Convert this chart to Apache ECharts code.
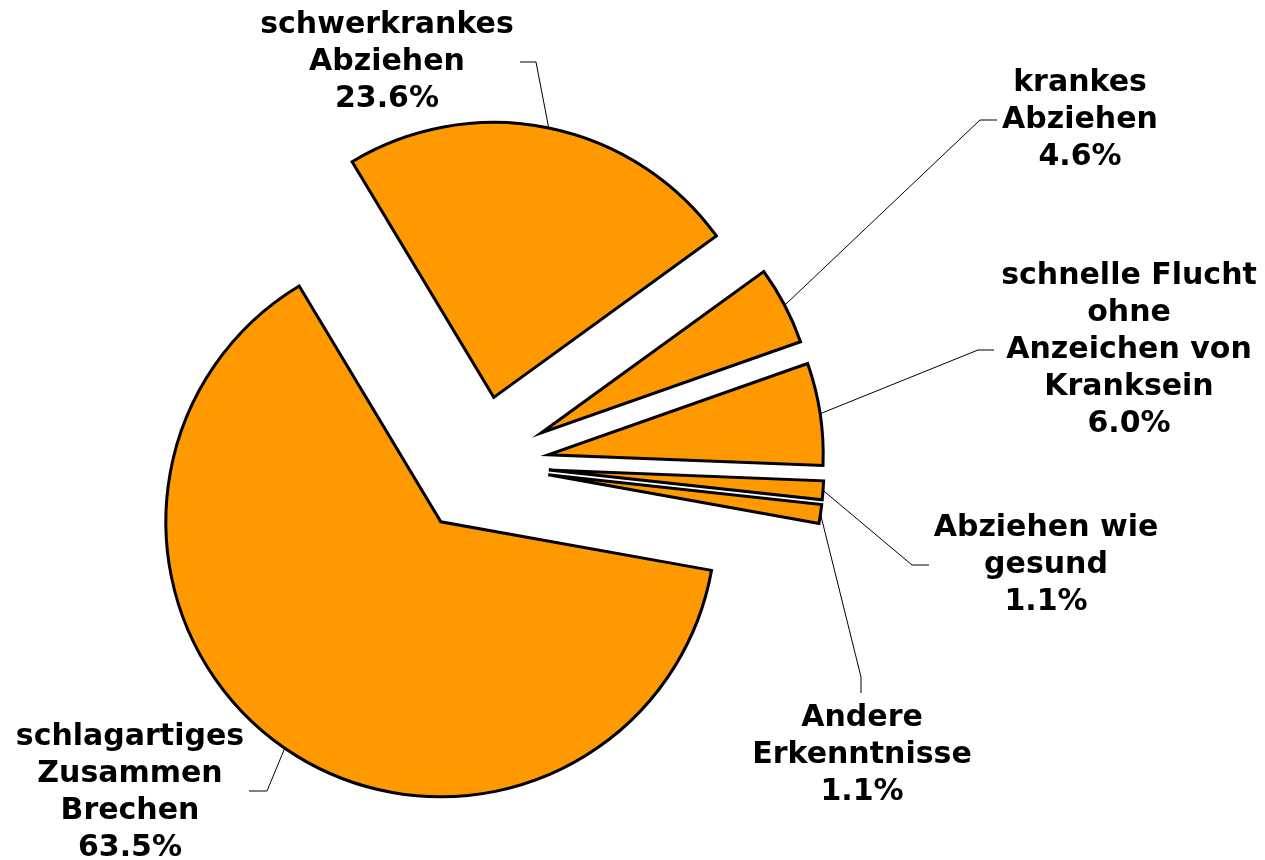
<!DOCTYPE html>
<html>
<head>
<meta charset="utf-8">
<script src="https://cdn.jsdelivr.net/npm/echarts@6/dist/echarts.min.js"></script>
<style>
  html, body { margin: 0; padding: 0; background: #fff; }
  #chart { width: 1265px; height: 860px; }
</style>
</head>
<body>
<div id="chart"></div>
<script>
// Kategorien im Uhrzeigersinn, beginnend an der Kante oben links
var categories = [
  'schwerkrankes\nAbziehen',
  'krankes\nAbziehen',
  'schnelle Flucht\nohne\nAnzeichen von\nKranksein',
  'Abziehen wie\ngesund',
  'Andere\nErkenntnisse',
  'schlagartiges\nZusammen\nBrechen'
];
var percents = [23.6, 4.6, 6.0, 1.1, 1.1, 63.5];

// Beschriftung: Mittelpunkt des Textblocks, Knick und Ende der Führungslinie
var labelCenter = [[387, 62], [1080, 120], [1129, 350], [1046, 565], [862, 755], [130, 793]];
var lineElbow   = [[536, 62], [980, 120], [978, 350], [912, 565], [861, 677], [267, 791]];
var lineEnd     = [[520, 62], [997, 120], [994, 350], [929, 565], [861, 693], [249, 791]];

var pieCenter = [480, 465];
var pieRadius = 275;
var explode = 69;       // Abstand der herausgezogenen Stücke
var startAngle = 121;

var myChart = echarts.init(document.getElementById('chart'));

var total = percents.reduce(function (a, b) { return a + b; }, 0);
var series = [];
var cum = 0;

// jedes Stück als eigene Serie, damit es um die Explosionsweite verschoben werden kann
percents.forEach(function (v, i) {
  var mid = (startAngle - (cum + v / 2) / total * 360) * Math.PI / 180;
  cum += v;
  var cx = pieCenter[0] + explode * Math.cos(mid);
  var cy = pieCenter[1] - explode * Math.sin(mid);
  var arcPt = [cx + pieRadius * Math.cos(mid), cy - pieRadius * Math.sin(mid)];

  series.push({
    type: 'pie',
    center: [cx, cy],
    radius: pieRadius,
    startAngle: startAngle,
    clockwise: true,
    avoidLabelOverlap: false,
    silent: true,
    animation: false,
    itemStyle: {
      color: '#FF9900',
      borderColor: '#000',
      borderWidth: 3,
      borderJoin: 'miter'
    },
    label: {
      show: true,
      position: 'outside',
      color: '#000',
      fontFamily: 'DejaVu Sans',
      fontWeight: 'bold',
      fontSize: 30,
      lineHeight: 37,
      formatter: function (p) {
        return p.name + '\n' + p.value.toFixed(1) + '%';
      }
    },
    labelLine: {
      show: true,
      lineStyle: { color: '#000', width: 1 }
    },
    labelLayout: function () {
      return {
        x: labelCenter[i][0],
        y: labelCenter[i][1],
        align: 'center',
        verticalAlign: 'middle',
        labelLinePoints: [arcPt, lineElbow[i], lineEnd[i]]
      };
    },
    data: percents.map(function (p, j) {
      if (j === i) {
        return { name: categories[j], value: p };
      }
      return {
        name: categories[j],
        value: p,
        itemStyle: { color: 'rgba(0,0,0,0)', borderWidth: 0 },
        label: { show: false },
        labelLine: { show: false }
      };
    })
  });
});

myChart.setOption({
  backgroundColor: '#fff',
  animation: false,
  series: series
});
</script>
</body>
</html>
